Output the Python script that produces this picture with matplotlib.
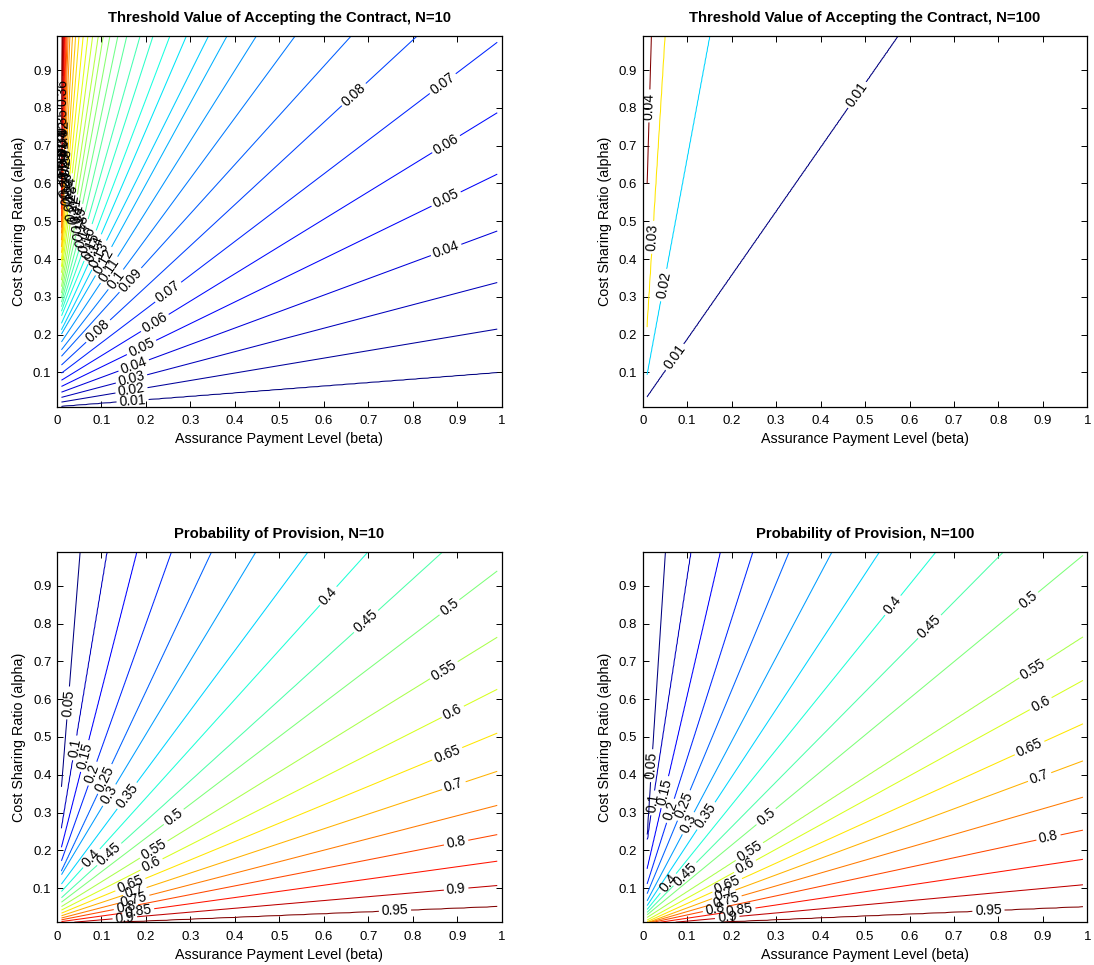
import numpy as np
import matplotlib
matplotlib.use("Agg")
import matplotlib.pyplot as plt
from matplotlib.colors import Normalize

plt.rcParams['font.family'] = ['Liberation Sans', 'DejaVu Sans']

# ---------------- data ----------------
grid_lo, grid_hi = 0.01, 0.99

# Top-left: threshold value, N=10
tl_low_levels = [0.01, 0.02, 0.03, 0.04, 0.05, 0.06, 0.07, 0.08, 0.09]
tl_low_slope = [0.091, 0.197, 0.31, 0.435, 0.573, 0.722, 0.893, 1.088, 1.30]   # rays from beta=-0.1
tl_high_levels = [0.10, 0.11, 0.12, 0.13, 0.14, 0.15, 0.16, 0.17, 0.18, 0.19,
                  0.20, 0.21, 0.22, 0.23, 0.24, 0.25, 0.26, 0.27, 0.28, 0.29,
                  0.30, 0.31, 0.32, 0.33, 0.34, 0.35, 0.36, 0.37, 0.38]
tl_high_left = [0.150, 0.170, 0.190, 0.210, 0.230, 0.250, 0.262, 0.274, 0.286, 0.298,
                0.310, 0.327, 0.344, 0.361, 0.378, 0.396, 0.414, 0.432, 0.450, 0.468,
                0.483, 0.498, 0.513, 0.528, 0.543, 0.558, 0.573, 0.588, 0.603]
tl_kink_beta = [0.132, 0.118, 0.104, 0.094, 0.084, 0.076, 0.068, 0.061, 0.055, 0.049,
                0.044, 0.040, 0.036, 0.032, 0.029, 0.026, 0.023, 0.021, 0.019, 0.0175,
                0.0162, 0.015, 0.0142, 0.0135, 0.0128, 0.0122, 0.0117, 0.0112, 0.0108]
tl_kink_alpha = [0.345, 0.372, 0.392, 0.408, 0.423, 0.438, 0.453, 0.468, 0.483, 0.498,
                 0.513, 0.528, 0.543, 0.558, 0.573, 0.588, 0.603, 0.618, 0.633, 0.648,
                 0.665, 0.680, 0.695, 0.710, 0.725, 0.740, 0.755, 0.770, 0.785]
tl_high_top = [0.557, 0.467, 0.400, 0.344, 0.291, 0.254, 0.216, 0.187, 0.157, 0.137,
               0.119, 0.104, 0.093, 0.081, 0.070, 0.059, 0.050, 0.042, 0.035, 0.029,
               0.025, 0.0225, 0.0205, 0.019, 0.0175, 0.0162, 0.015, 0.014, 0.013]

# Top-right: threshold value, N=100 (contour: alpha = a0 + m*beta)
tr_levels = [0.01, 0.02, 0.03, 0.04]
tr_a0 = [0.018, 0.030, 0.030, 0.19]
tr_m = [1.69, 6.34, 19.0, 41.0]

# Probability of provision levels
pp_levels = [0.05, 0.10, 0.15, 0.20, 0.25, 0.30, 0.35, 0.40, 0.45, 0.50,
             0.55, 0.60, 0.65, 0.70, 0.75, 0.80, 0.85, 0.90, 0.95]
# Bottom-left: N=10
bl_a0 = [0.22, 0.187, 0.162, 0.139, 0.120, 0.117, 0.095, 0.078, 0.064, 0.054,
         0.044, 0.036, 0.029, 0.023, 0.018, 0.014, 0.010, 0.006, 0.003]
bl_m = [14.8, 7.1, 4.6, 3.3, 2.5, 1.95, 1.584, 1.303, 1.067, 0.894,
        0.727, 0.596, 0.486, 0.39, 0.304, 0.23, 0.163, 0.102, 0.0486]
# Bottom-right: N=100
br_a0 = [0.06, 0.153, 0.10, 0.074, 0.057, 0.044, 0.036, 0.029, 0.024, 0.020,
         0.015, 0.009, 0.006, 0.004, 0.004, 0.004, 0.003, 0.002, 0.001]
br_m = [18.2, 7.67, 5.08, 3.69, 2.83, 2.22, 1.79, 1.456, 1.19, 0.97,
        0.757, 0.647, 0.534, 0.437, 0.34, 0.252, 0.175, 0.108, 0.05]

# label positions (level, beta, alpha)
tl_labels = [(0.01, 0.171, 0.026), (0.02, 0.168, 0.052), (0.03, 0.168, 0.079),
             (0.04, 0.175, 0.11), (0.05, 0.194, 0.158), (0.06, 0.224, 0.225),
             (0.07, 0.258, 0.30), (0.08, 0.104, 0.193), (0.09, 0.179, 0.33),
             (0.08, 0.673, 0.829), (0.07, 0.868, 0.865), (0.06, 0.872, 0.71),
             (0.05, 0.876, 0.56), (0.04, 0.876, 0.423)]
tl_labels += [(lv, b, a) for lv, b, a in zip(tl_high_levels, tl_kink_beta, tl_kink_alpha)]
tr_labels = [(0.01, 0.072, 0.14), (0.01, 0.489, 0.83), (0.02, 0.049, 0.335),
             (0.03, 0.0195, 0.459), (0.04, 0.016, 0.76)]
bl_labels = [(0.05, 0.025, 0.59), (0.10, 0.04, 0.471), (0.15, 0.059, 0.454),
             (0.20, 0.067, 0.405), (0.25, 0.104, 0.387), (0.30, 0.115, 0.347),
             (0.35, 0.157, 0.343), (0.40, 0.074, 0.184), (0.45, 0.115, 0.193),
             (0.50, 0.261, 0.29), (0.55, 0.216, 0.206), (0.60, 0.209, 0.17),
             (0.65, 0.164, 0.113), (0.70, 0.175, 0.096), (0.75, 0.175, 0.064),
             (0.80, 0.153, 0.06), (0.85, 0.183, 0.042), (0.90, 0.153, 0.029),
             (0.40, 0.61, 0.87), (0.45, 0.696, 0.803), (0.50, 0.887, 0.834),
             (0.55, 0.872, 0.675), (0.60, 0.889, 0.568), (0.65, 0.876, 0.458),
             (0.70, 0.894, 0.37), (0.80, 0.898, 0.219), (0.90, 0.898, 0.095),
             (0.95, 0.76, 0.038)]
br_labels = [(0.05, 0.019, 0.44), (0.10, 0.026, 0.334), (0.15, 0.06, 0.352),
             (0.20, 0.064, 0.299), (0.25, 0.098, 0.316), (0.30, 0.105, 0.273),
             (0.35, 0.146, 0.285), (0.40, 0.06, 0.109), (0.45, 0.098, 0.131),
             (0.50, 0.285, 0.281), (0.55, 0.24, 0.197), (0.60, 0.229, 0.157),
             (0.65, 0.191, 0.104), (0.70, 0.184, 0.078), (0.75, 0.19, 0.06),
             (0.80, 0.161, 0.048), (0.85, 0.218, 0.032), (0.90, 0.19, 0.02),
             (0.40, 0.566, 0.847), (0.45, 0.645, 0.79), (0.50, 0.87, 0.86),
             (0.55, 0.878, 0.68), (0.60, 0.894, 0.587), (0.65, 0.872, 0.468),
             (0.70, 0.894, 0.388), (0.80, 0.912, 0.237), (0.95, 0.777, 0.043)]

titles = ["Threshold Value of Accepting the Contract, N=10",
          "Threshold Value of Accepting the Contract, N=100",
          "Probability of Provision, N=10",
          "Probability of Provision, N=100"]
xlabel = "Assurance Payment Level (beta)"
ylabel = "Cost Sharing Ratio (alpha)"

# ---------------- build fields from the contour geometry ----------------
beta = np.linspace(grid_lo, grid_hi, 393)
alpha = np.linspace(grid_lo, grid_hi, 393)
ones = np.ones((1, beta.size))


def field(rows, vals):
    """rows: contour heights (ascending), vals: matching level values."""
    H = np.vstack([0 * ones, rows, 2 * rows[-1:] - rows[-2:-1], 60 * ones])
    d = vals[-1] - vals[-2]
    v = [vals[0] - (vals[1] - vals[0]) * 3] + list(vals) + [vals[-1] + d, vals[-1] + 40 * d]
    n = H.shape[0]
    Z = np.empty((alpha.size, beta.size))
    for j in range(beta.size):
        h = np.maximum.accumulate(H[:, j]) + np.arange(n) * 1e-9
        Z[:, j] = np.interp(alpha, h, v)
    return Z


def lines(a0, m):
    return np.asarray(a0)[:, None] + np.asarray(m)[:, None] * beta[None, :]


# top-left
H_low = np.asarray(tl_low_slope)[:, None] * (beta[None, :] + 0.1)
left = np.asarray(tl_high_left)[:, None]
kb = np.asarray(tl_kink_beta)[:, None]
ka = np.asarray(tl_kink_alpha)[:, None]
tp = np.asarray(tl_high_top)[:, None]
H_B = left + (ka - left) / (kb - grid_lo) * (beta[None, :] - grid_lo)
H_A = ka + (grid_hi - ka) / (tp - kb) * (beta[None, :] - kb)
H_tl_rows = np.vstack([H_low, np.maximum(H_A, H_B)])
tl_levels = tl_low_levels + tl_high_levels
Z_tl = field(H_tl_rows, tl_levels)

# top-right
H_tr_rows = lines(tr_a0, tr_m)
Z_tr = field(H_tr_rows, tr_levels)

# bottom panels (height grows as the level falls)
H_bl_rows = lines(bl_a0, bl_m)
H_br_rows = lines(br_a0, br_m)
Z_bl = field(H_bl_rows[::-1], pp_levels[::-1])
Z_br = field(H_br_rows[::-1], pp_levels[::-1])


def snap(labels, levels, rows):
    pts = []
    for lv, b, a in labels:
        h = rows[levels.index(lv)]
        ok = (h >= grid_lo) & (h <= grid_hi)
        d = ((beta - b) * 445) ** 2 + ((h - a) * 370) ** 2
        d[~ok] = np.inf
        k = int(np.argmin(d))
        pts.append((beta[k], h[k]))
    return pts


# ---------------- draw ----------------
fig = plt.figure(figsize=(10.94, 9.65), dpi=100)
W, Hpx = 1094.0, 965.0
boxes = [(57, 36), (642.7, 36), (57, 551.7), (642.7, 551.7)]
panels = [(Z_tl, tl_levels, tl_labels, H_tl_rows), (Z_tr, tr_levels, tr_labels, H_tr_rows),
          (Z_bl, pp_levels, bl_labels, H_bl_rows), (Z_br, pp_levels, br_labels, H_br_rows)]

for (x0, y0), (Z, levs, labs, rows), title in zip(boxes, panels, titles):
    ax = fig.add_axes([x0 / W, 1 - (y0 + 370.5) / Hpx, 444.7 / W, 370.5 / Hpx])
    cs = ax.contour(beta, alpha, Z, levels=levs, cmap='jet',
                    norm=Normalize(min(levs), max(levs)), linewidths=0.75)
    ax.clabel(cs, manual=snap(labs, levs, rows), inline=True, inline_spacing=3,
              fontsize=10, colors='k', fmt=lambda v: f"{v:g}")
    ax.set_xlim(0, 1)
    ax.set_ylim(0.01, 0.99)
    ax.set_xticks(np.round(np.arange(0, 1.01, 0.1), 1))
    ax.set_xticklabels(['0'] + [f"{t:.1f}" for t in np.arange(0.1, 0.95, 0.1)] + ['1'])
    ax.set_yticks(np.round(np.arange(0.1, 0.95, 0.1), 1))
    ax.set_yticklabels([f"{t:.1f}" for t in np.arange(0.1, 0.95, 0.1)])
    ax.tick_params(direction='in', top=True, right=True, length=4, width=0.7,
                   labelsize=9.5)
    ax.tick_params(axis='x', pad=6)
    ax.tick_params(axis='y', pad=4)
    for sp in ax.spines.values():
        sp.set_linewidth(0.9)
    ax.set_xlabel(xlabel, fontsize=10.3, labelpad=4)
    ax.set_ylabel(ylabel, fontsize=10.3, labelpad=5)
    ax.set_title(title, fontsize=10.7, fontweight='bold', pad=10)

fig.savefig("out.png", dpi=100)
